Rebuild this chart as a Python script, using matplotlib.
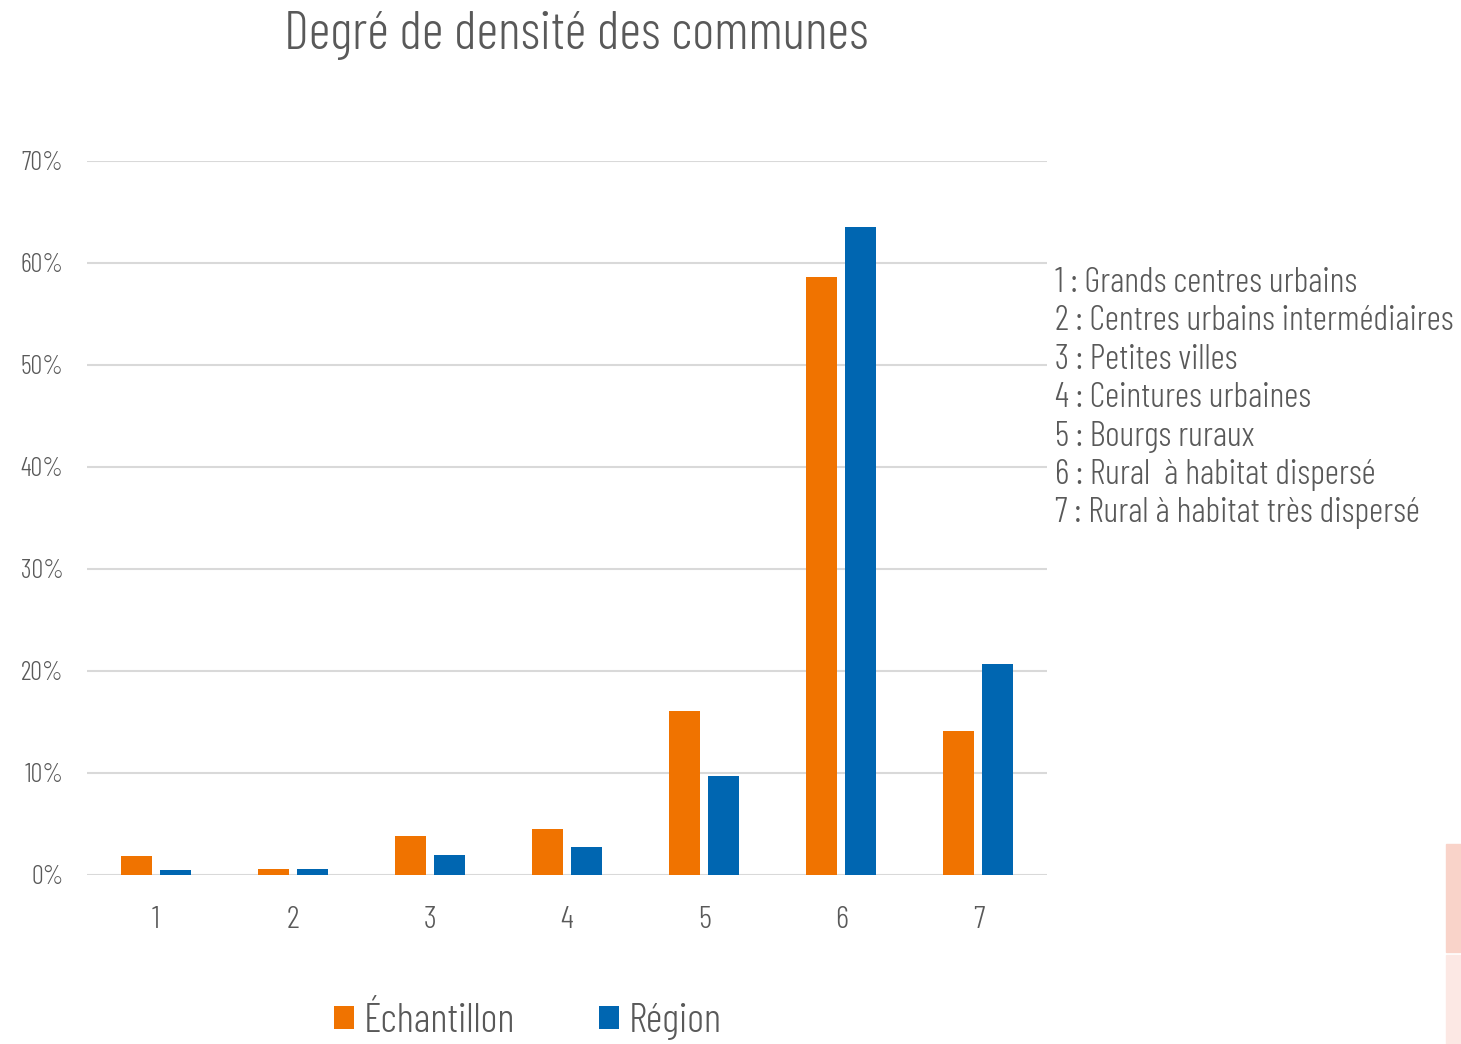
import matplotlib
matplotlib.use("Agg")
import matplotlib.pyplot as plt
from matplotlib.patches import Rectangle
import numpy as np

FONT = "Barlow Condensed"
GREY = "#595959"

categories = ["1", "2", "3", "4", "5", "6", "7"]
echantillon = [1.9, 0.6, 3.8, 4.5, 16.1, 58.6, 14.1]
region = [0.5, 0.6, 2.0, 2.7, 9.7, 63.5, 20.7]
descriptions = [
    "1 : Grands centres urbains",
    "2 : Centres urbains intermédiaires",
    "3 : Petites villes",
    "4 : Ceintures urbaines",
    "5 : Bourgs ruraux",
    "6 : Rural  à habitat dispersé",
    "7 : Rural à habitat très dispersé",
]
yticks = [0, 10, 20, 30, 40, 50, 60, 70]

W, H = 1461, 1044
fig = plt.figure(figsize=(W / 100, H / 100), dpi=100)
ax = fig.add_axes([87 / W, 1 - 875 / H, 960 / W, 714 / H])

x = np.arange(len(categories))
bw = 0.226
off = 0.142
ax.bar(x - off, echantillon, bw, color="#F07300", label="Échantillon", zorder=3)
ax.bar(x + off, region, bw, color="#0066B1", label="Région", zorder=3)

ax.set_xlim(-0.5, len(categories) - 0.5)
ax.set_ylim(0, 70)
ax.set_yticks(yticks)
ax.set_yticklabels([f"{v}%" for v in yticks])
ax.set_xticks(x)
ax.set_xticklabels(categories)
ax.grid(axis="y", color="#D9D9D9", linewidth=1.5, zorder=0)
ax.set_axisbelow(True)
for s in ax.spines.values():
    s.set_visible(False)
ax.tick_params(axis="both", length=0, colors=GREY)
ax.tick_params(axis="y", pad=17, labelsize=19)
ax.tick_params(axis="x", pad=22, labelsize=23)
for lab in ax.get_xticklabels() + ax.get_yticklabels():
    lab.set_fontfamily(FONT)
    lab.set_fontweight(300)

# title sits left of the figure centre, over the plot area
fig.text(576 / W, 1 - 35 / H, "Degré de densité des communes", ha="center", va="center",
         fontsize=38.5, color=GREY, family=FONT, weight=300)

for i, d in enumerate(descriptions):
    fig.text(1055 / W, 1 - (283 + 38.4 * i) / H, d, ha="left", va="center",
             fontsize=25.3, color=GREY, family=FONT, weight=300)

leg = fig.legend(loc="center", bbox_to_anchor=(528 / W, 1 - 1022 / H), ncol=2, frameon=False,
                 prop={"family": FONT, "weight": 300, "size": 29.5}, handlelength=0.49, handleheight=0.49,
                 handletextpad=0.24, columnspacing=2.05, borderpad=0)
for t in leg.get_texts():
    t.set_color(GREY)

# faint pink strips at the bottom right edge of the original image
fig.patches.append(Rectangle((1446 / W, 1 - 952 / H), 15 / W, 108 / H, transform=fig.transFigure,
                             color="#F9D3C9", zorder=0))
fig.patches.append(Rectangle((1446 / W, 0), 15 / W, 89 / H, transform=fig.transFigure,
                             color="#FCE8E4", zorder=0))

fig.savefig("out.png", dpi=100)
